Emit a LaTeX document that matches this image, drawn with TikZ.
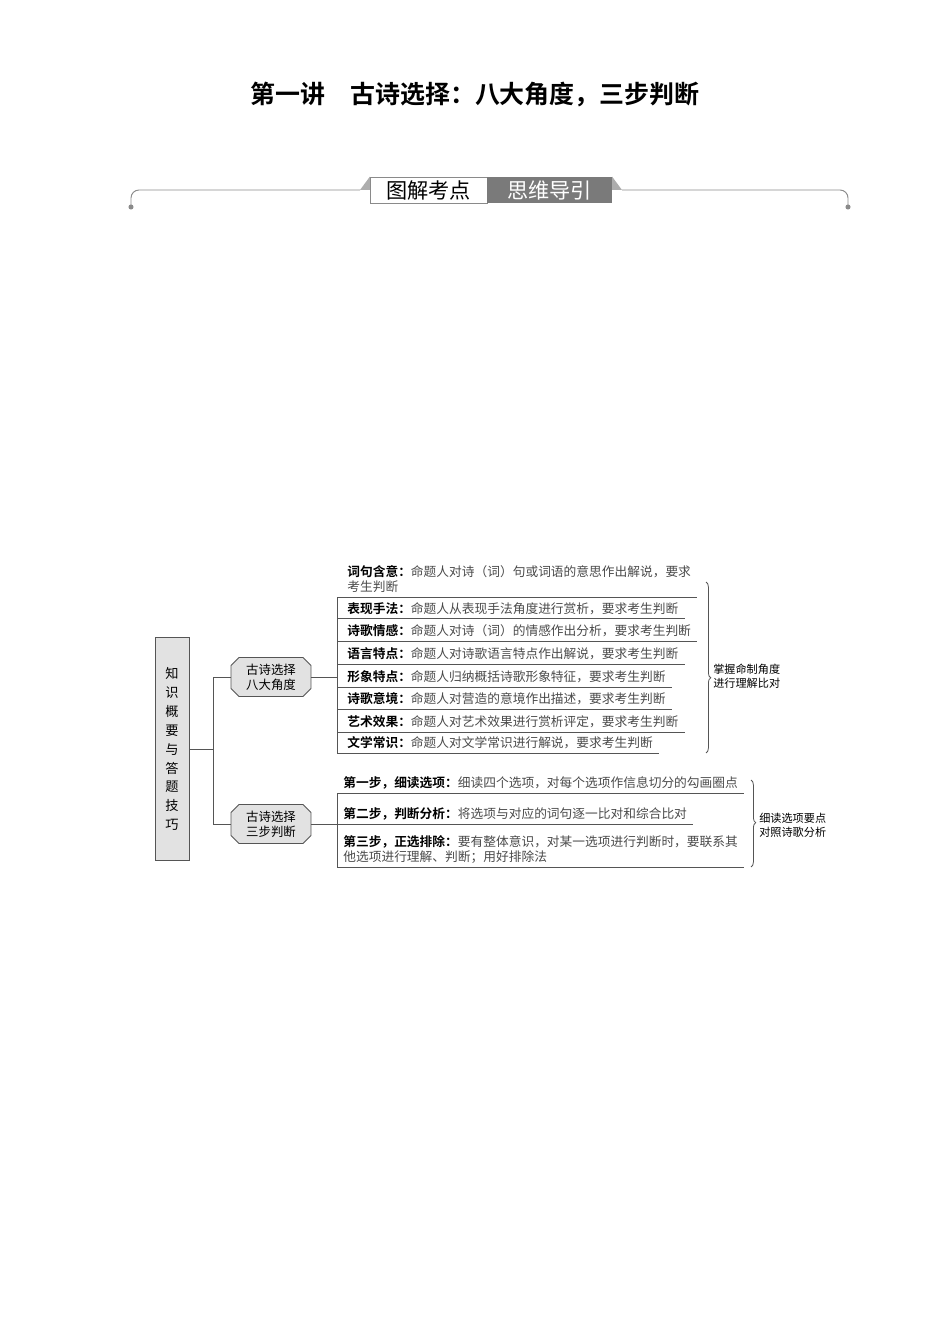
\documentclass[tikz,border=0pt]{standalone}
\usepackage{fontspec}
\setmainfont{Noto Sans CJK SC}[BoldFont={Noto Sans CJK SC Bold}]
\usetikzlibrary{shapes.misc,decorations.pathreplacing}
\definecolor{linegray}{HTML}{555555}
\definecolor{bodygray}{HTML}{4A4A4A}
\definecolor{boxgray}{HTML}{E2E2E2}
\definecolor{tabgray}{HTML}{7A7A7A}
\definecolor{bargray}{HTML}{8A8A8A}
\newcommand{\itm}[2]{{\color{black}\bfseries #1}#2}
\begin{document}
\begin{tikzpicture}
[x=0.0221cm,y=-0.0221cm,%
  conn/.style={draw=linegray,line width=0.5pt},%
  item/.style={anchor=south west,inner xsep=3.8pt,inner ysep=1pt,text depth=2pt,%
    align=left,text=bodygray,font=\fontsize{8}{9.4}\selectfont},%
  hexbox/.style={chamfered rectangle,chamfered rectangle xsep=2pt,chamfered rectangle ysep=3pt,%
    draw=linegray,fill=boxgray,line width=0.5pt,minimum width=50.2pt,minimum height=24.5pt,%
    inner sep=0pt,align=center,font=\fontsize{7.8}{9.4}\selectfont},%
  kbox/.style={rectangle,draw=linegray,fill=boxgray,line width=0.5pt,minimum width=21.3pt,%
    minimum height=140.5pt,inner sep=0pt,align=center,font=\fontsize{8.3}{11.9}\selectfont},%
  tab/.style={rectangle,minimum height=16.3pt,inner sep=0pt,font=\fontsize{13.3}{15}\selectfont},%
  note/.style={anchor=west,inner sep=0pt,align=left,font=\fontsize{7}{8.8}\selectfont},%
  brc/.style={draw=linegray,line width=0.5pt,decorate}]
\useasboundingbox (0,0) rectangle (950,1344);

\node[font=\fontsize{15.7}{18}\selectfont\bfseries] (title) at (475,95)
  {第一讲\quad 古诗选择：八大角度，三步判断};

\node[tab,draw=bargray,fill=white,minimum width=73.4pt] (tl) at (428.5,190) {图解考点};
\node[tab,fill=tabgray,text=white,minimum width=78.4pt] (tr) at (549.5,190) {思维导引};
\fill[bargray!70] (tl.north west) -- (360,190) -- (tl.west) -- cycle;
\fill[bargray!70] (tr.north east) -- (622,190) -- (tr.east) -- cycle;
\coordinate (dl) at (131,207);
\coordinate (dr) at (848,207);
\draw[bargray,line width=0.6pt,rounded corners=5pt] (dl) -- (131,190) -- (360,190);
\draw[bargray,line width=0.6pt,rounded corners=5pt] (622,190) -- (848,190) -- (dr);
\fill[bargray] (dl) circle (1.6pt) (dr) circle (1.6pt);

\node[kbox] (kb) at (172,749) {知\\识\\概\\要\\与\\答\\题\\技\\巧};
\node[hexbox] (h1) at (271,677) {古诗选择\\八大角度};
\node[hexbox] (h2) at (271,824) {古诗选择\\三步判断};
\coordinate (J) at (213,749);
\coordinate (L) at (337,0);

\node[item] (t1) at (341,597)
  {\itm{词句含意：}{命题人对诗（词）句或词语的意思作出解说，要求}\\考生判断};
\foreach \n/\ly/\h/\b in {%
  2/618.5/表现手法：/命题人从表现手法角度进行赏析，要求考生判断,%
  3/641/诗歌情感：/命题人对诗（词）的情感作出分析，要求考生判断,%
  4/664/语言特点：/命题人对诗歌语言特点作出解说，要求考生判断,%
  5/687/形象特点：/命题人归纳概括诗歌形象特征，要求考生判断,%
  6/709/诗歌意境：/命题人对营造的意境作出描述，要求考生判断,%
  7/732/艺术效果：/命题人对艺术效果进行赏析评定，要求考生判断,%
  8/753/文学常识：/命题人对文学常识进行解说，要求考生判断}
  \node[item] (t\n) at (341,\ly) {\itm{\h}{\b}};

\node[item] (s1) at (337,793) {\itm{第一步，细读选项：}{细读四个选项，对每个选项作信息切分的勾画圈点}};
\node[item] (s2) at (337,824) {\itm{第二步，判断分析：}{将选项与对应的词句逐一比对和综合比对}};
\node[item] (s3) at (337,867)
  {\itm{第三步，正选排除：}{要有整体意识，对某一选项进行判断时，要联系其}\\他选项进行理解、判断；用好排除法};

\foreach \n in {1,...,8}
  \draw[conn] (t\n.south -| L) -- (t\n.south east);
\foreach \n in {1,2,3}
  \draw[conn] (s\n.south -| L) -- (s\n.south east);
\draw[conn] (t1.south -| L) -- (t8.south -| L);
\draw[conn] (s1.south -| L) -- (s3.south -| L);

\draw[conn] (kb.east) -- (J);
\draw[conn] (h1.west) -- (h1.west -| J) -- (h2.west -| J) -- (h2.west);
\draw[conn] (h1.east) -- (h1.east -| L);
\draw[conn] (h2.east) -- (h2.east -| L);

\coordinate (b1a) at (706,582);
\coordinate (b1b) at (706,753);
\coordinate (b2a) at (751,780);
\coordinate (b2b) at (751,867);
\draw[brc,decoration={brace,amplitude=3pt,aspect=0.56}] (b1a) -- (b1b);
\draw[brc,decoration={brace,amplitude=3pt,aspect=0.49}] (b2a) -- (b2b);
\node[note] (n1) at (713,676) {掌握命制角度\\进行理解比对};
\node[note] (n2) at (759,825) {细读选项要点\\对照诗歌分析};
\end{tikzpicture}
\end{document}
